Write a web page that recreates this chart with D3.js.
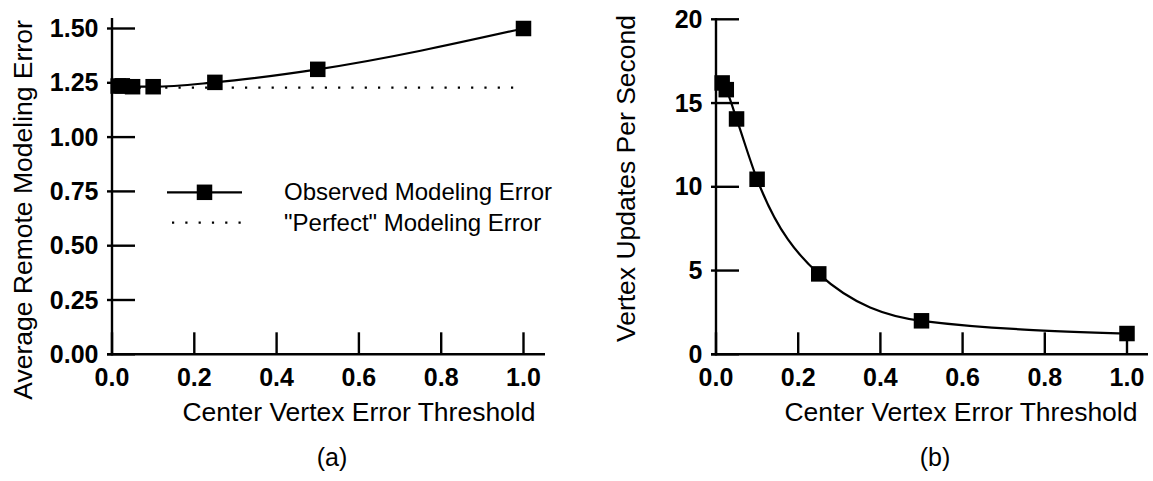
<!DOCTYPE html>
<html>
<head>
<meta charset="utf-8">
<script src="https://cdn.jsdelivr.net/npm/d3@7"></script>
<style>
  html, body { margin: 0; padding: 0; background: #fff; }
  svg { display: block; }
  text { font-family: "Liberation Sans", Arial, Helvetica, sans-serif; fill: #000; }
  .tick-label { font-weight: bold; font-size: 25px; }
  .axis-title { font-size: 26.5px; }
  .legend-text { font-size: 24px; }
  .panel-label { font-size: 25px; }
</style>
</head>
<body>
<svg id="chart" width="1153" height="481"></svg>
<script>
// Center vertex error thresholds used in both experiments
const thresholds = [0.015, 0.025, 0.05, 0.1, 0.25, 0.5, 1.0];

// (a) average remote modeling error observed at each threshold
const observedError = [1.235, 1.236, 1.232, 1.232, 1.252, 1.312, 1.50];
// (a) ideal ("perfect") modeling error level
const perfectError = 1.228;

// (b) vertex updates per second at each threshold
const updatesPerSecond = [16.2, 15.8, 14.05, 10.45, 4.8, 2.0, 1.24];

// Tick labels
const xTicks = [0.0, 0.2, 0.4, 0.6, 0.8, 1.0];
const yTicksA = [0.00, 0.25, 0.50, 0.75, 1.00, 1.25, 1.50];
const yTicksB = [0, 5, 10, 15, 20];

const legendLabels = ["Observed Modeling Error", "\"Perfect\" Modeling Error"];

const svg = d3.select("#chart");
const AXIS_W = 2.4;
const MARK = 15.5;

function drawPanel(opts) {
  const { x, y, yTicks, yFmt, axisTop, xAxisEnd, yTitle, yTitleX, yTitleY, xTitleX, label, labelX } = opts;
  const g = svg.append("g");
  const x0 = x(0), y0 = y(0);

  // y axis line
  g.append("line")
    .attr("x1", x0).attr("x2", x0)
    .attr("y1", axisTop).attr("y2", y0 + AXIS_W / 2)
    .attr("stroke", "#000").attr("stroke-width", AXIS_W);
  // x axis line
  g.append("line")
    .attr("x1", x0 - 5).attr("x2", xAxisEnd)
    .attr("y1", y0).attr("y2", y0)
    .attr("stroke", "#000").attr("stroke-width", AXIS_W);

  // y ticks: short outside stub, longer inside
  g.selectAll(".ytick").data(yTicks).join("line")
    .attr("x1", x0 - 5).attr("x2", x0 + 23)
    .attr("y1", d => y(d)).attr("y2", d => y(d))
    .attr("stroke", "#000").attr("stroke-width", AXIS_W);
  g.selectAll(".ylab").data(yTicks).join("text")
    .attr("class", "tick-label")
    .attr("x", x0 - 13.5).attr("y", d => y(d))
    .attr("dy", "0.34em")
    .attr("text-anchor", "end")
    .text(yFmt);

  // x ticks point up into the plot
  g.selectAll(".xtick").data(xTicks).join("line")
    .attr("x1", d => x(d)).attr("x2", d => x(d))
    .attr("y1", y0).attr("y2", y0 - 22)
    .attr("stroke", "#000").attr("stroke-width", AXIS_W);
  g.selectAll(".xlab").data(xTicks).join("text")
    .attr("class", "tick-label")
    .attr("x", d => x(d)).attr("y", y0 + 32)
    .attr("text-anchor", "middle")
    .text(d3.format(".1f"));

  // axis titles
  g.append("text").attr("class", "axis-title")
    .attr("x", xTitleX).attr("y", 421)
    .attr("text-anchor", "middle")
    .text("Center Vertex Error Threshold");
  g.append("text").attr("class", "axis-title")
    .attr("transform", `translate(${yTitleX},${yTitleY}) rotate(-90)`)
    .attr("text-anchor", "middle")
    .text(yTitle);

  // panel label
  g.append("text").attr("class", "panel-label")
    .attr("x", labelX).attr("y", 466)
    .attr("text-anchor", "middle")
    .text(label);
  return g;
}

function drawSeries(g, x, y, values) {
  const pts = thresholds.map((t, i) => [t, values[i]]);
  const line = d3.line().x(d => x(d[0])).y(d => y(d[1])).curve(d3.curveMonotoneX);
  g.append("path").attr("d", line(pts))
    .attr("fill", "none").attr("stroke", "#000").attr("stroke-width", 2.2);
  g.selectAll(".mark").data(pts).join("rect")
    .attr("x", d => x(d[0]) - MARK / 2).attr("y", d => y(d[1]) - MARK / 2)
    .attr("width", MARK).attr("height", MARK)
    .attr("fill", "#000");
}

// ---------- (a) Average remote modeling error ----------
const xA = d3.scaleLinear().domain([0, 1]).range([112, 523.5]);
const yA = d3.scaleLinear().domain([0, 1.5]).range([354.3, 28.5]);
const gA = drawPanel({
  x: xA, y: yA, yTicks: yTicksA, yFmt: d3.format(".2f"),
  axisTop: 18, xAxisEnd: 545,
  yTitle: "Average Remote Modeling Error", yTitleX: 32, yTitleY: 210,
  xTitleX: 359, label: "(a)", labelX: 332
});

// perfect-error reference (dotted)
gA.append("line")
  .attr("x1", xA(0.0)).attr("x2", xA(0.99))
  .attr("y1", yA(perfectError)).attr("y2", yA(perfectError))
  .attr("stroke", "#000").attr("stroke-width", 2.2)
  .attr("stroke-dasharray", "2.2,11.1");

drawSeries(gA, xA, yA, observedError);

// legend
const legend = gA.append("g");
legend.append("line")
  .attr("x1", 167).attr("x2", 242).attr("y1", 192.3).attr("y2", 192.3)
  .attr("stroke", "#000").attr("stroke-width", 2.2);
legend.append("rect")
  .attr("x", 204.5 - MARK / 2).attr("y", 192.3 - MARK / 2)
  .attr("width", MARK).attr("height", MARK).attr("fill", "#000");
legend.append("line")
  .attr("x1", 172).attr("x2", 244).attr("y1", 222.7).attr("y2", 222.7)
  .attr("stroke", "#000").attr("stroke-width", 2.2)
  .attr("stroke-dasharray", "2.2,11.1");
legend.selectAll("text").data(legendLabels).join("text")
  .attr("class", "legend-text")
  .attr("x", 284).attr("y", (d, i) => 200 + i * 30.5)
  .text(d => d);

// ---------- (b) Vertex updates per second ----------
const xB = d3.scaleLinear().domain([0, 1]).range([716, 1127]);
const yB = d3.scaleLinear().domain([0, 20]).range([354.3, 19.3]);
const gB = drawPanel({
  x: xB, y: yB, yTicks: yTicksB, yFmt: d3.format("d"),
  axisTop: 18, xAxisEnd: 1148,
  yTitle: "Vertex Updates Per Second", yTitleX: 635, yTitleY: 178.5,
  xTitleX: 961, label: "(b)", labelX: 935
});
drawSeries(gB, xB, yB, updatesPerSecond);
</script>
</body>
</html>
